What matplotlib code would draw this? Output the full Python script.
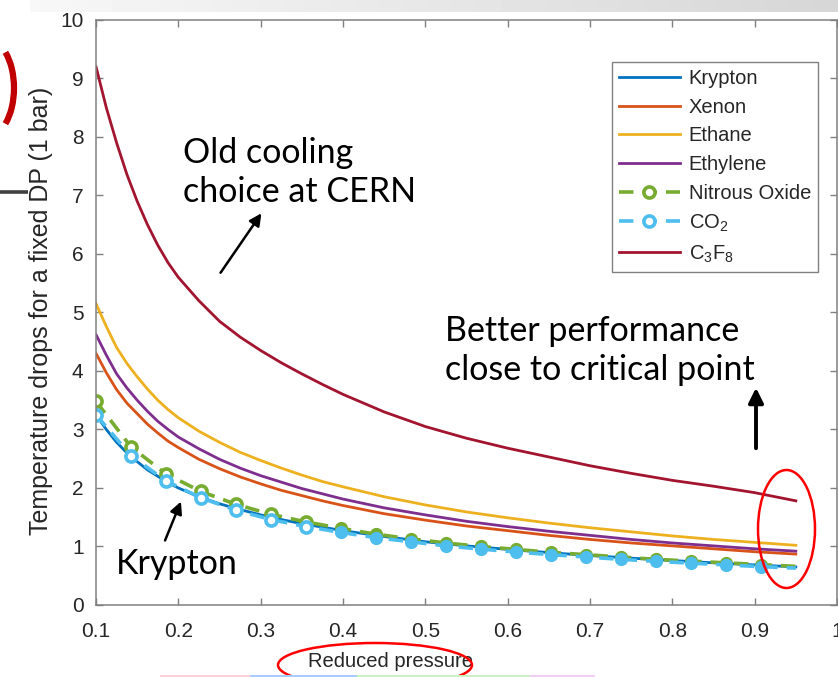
import matplotlib
matplotlib.use('Agg')
import matplotlib.pyplot as plt
import numpy as np
from matplotlib.patches import Ellipse, Arc, Rectangle

plt.rcParams['font.family'] = ['Liberation Sans', 'DejaVu Sans']
plt.rcParams['mathtext.fontset'] = 'custom'
plt.rcParams['mathtext.rm'] = 'Liberation Sans'
plt.rcParams['mathtext.it'] = 'Liberation Sans:italic'
plt.rcParams['mathtext.bf'] = 'Liberation Sans:bold'

# reduced pressure for the plain curves
pr = [0.1, 0.1125, 0.125, 0.1375, 0.15, 0.1625, 0.175, 0.1875, 0.2, 0.225,
      0.25, 0.275, 0.3, 0.325, 0.35, 0.375, 0.4, 0.45, 0.5, 0.55,
      0.6, 0.65, 0.7, 0.75, 0.8, 0.85, 0.9, 0.95]
krypton = [3.25, 3.00, 2.78, 2.60, 2.45, 2.31, 2.20, 2.09, 2.00, 1.85,
           1.73, 1.63, 1.54, 1.46, 1.39, 1.33, 1.27, 1.17, 1.08, 1.01,
           0.95, 0.895, 0.845, 0.80, 0.76, 0.72, 0.685, 0.65]
xenon = [4.30, 3.97, 3.68, 3.45, 3.27, 3.09, 2.94, 2.80, 2.69, 2.49,
         2.33, 2.19, 2.07, 1.96, 1.87, 1.78, 1.70, 1.56, 1.45, 1.35,
         1.27, 1.19, 1.12, 1.06, 1.01, 0.96, 0.91, 0.87]
ethane = [5.15, 4.76, 4.40, 4.13, 3.90, 3.69, 3.50, 3.34, 3.20, 2.97,
          2.78, 2.61, 2.47, 2.34, 2.22, 2.11, 2.02, 1.85, 1.71, 1.59,
          1.49, 1.40, 1.32, 1.25, 1.18, 1.12, 1.07, 1.02]
ethylene = [4.62, 4.27, 3.95, 3.71, 3.50, 3.31, 3.14, 3.00, 2.87, 2.67,
            2.49, 2.34, 2.21, 2.10, 1.99, 1.90, 1.81, 1.66, 1.54, 1.43,
            1.34, 1.26, 1.19, 1.12, 1.06, 1.01, 0.96, 0.92]
c3f8 = [9.20, 8.50, 7.90, 7.36, 6.90, 6.50, 6.15, 5.85, 5.60, 5.20,
        4.85, 4.58, 4.35, 4.14, 3.95, 3.77, 3.60, 3.30, 3.05, 2.85,
        2.68, 2.53, 2.38, 2.25, 2.13, 2.03, 1.92, 1.78]

# reduced pressure for the curves drawn with markers
pr_mk = [0.1, 0.1425, 0.185, 0.2275, 0.27, 0.3125, 0.355, 0.3975, 0.44, 0.4825,
         0.525, 0.5675, 0.61, 0.6525, 0.695, 0.7375, 0.78, 0.8225, 0.865, 0.9075, 0.95]
n2o = [3.48, 2.70, 2.24, 1.94, 1.72, 1.55, 1.42, 1.31, 1.21, 1.13,
       1.06, 1.00, 0.95, 0.90, 0.86, 0.82, 0.78, 0.75, 0.72, 0.69, 0.66]
co2 = [3.25, 2.55, 2.12, 1.83, 1.62, 1.46, 1.34, 1.24, 1.15, 1.08,
       1.01, 0.955, 0.905, 0.86, 0.82, 0.78, 0.745, 0.715, 0.685, 0.655, 0.63]

xticks = [0.1, 0.2, 0.3, 0.4, 0.5, 0.6, 0.7, 0.8, 0.9, 1.0]
xticklabels = ['0.1', '0.2', '0.3', '0.4', '0.5', '0.6', '0.7', '0.8', '0.9', '1']
yticks = list(range(0, 11))

fig = plt.figure(figsize=(8.38, 6.77), dpi=100)
ax = fig.add_axes([0.1146, 0.1064, 0.8842, 0.8641])

lw = 2.0
ax.plot(pr, krypton, color='#0072BD', lw=lw, label='Krypton')
ax.plot(pr, xenon, color='#D95319', lw=lw, label='Xenon')
ax.plot(pr, ethane, color='#EDB120', lw=lw, label='Ethane')
ax.plot(pr, ethylene, color='#7E2F8E', lw=lw, label='Ethylene')

# first few markers are open rings, the rest come out solid
filled = slice(7, 20)
for y, c, name in [(n2o, '#77AC30', 'Nitrous Oxide'), (co2, '#4DBEEE', 'CO$_2$')]:
    ax.plot(pr_mk, y, color=c, lw=2.6, ls=(0, (4, 2.5)), marker='o', ms=8,
            mew=2.6, mfc='white', mec=c, markevery=list(range(0, 7)), label=name)
    ax.plot(np.array(pr_mk)[filled], np.array(y)[filled], ls='none', marker='o',
            ms=8.5, mfc=c, mec=c)

ax.plot(pr, c3f8, color='#A2142F', lw=lw, label='C$_3$F$_8$')

ax.set_xlim(0.1, 1.0)
ax.set_ylim(0, 10)
ax.set_xticks(xticks)
ax.set_xticklabels(xticklabels)
ax.set_yticks(yticks)
ax.tick_params(direction='in', length=5, width=1, colors='#808080',
               labelcolor='#262626', labelsize=15, top=True, right=True)
ax.tick_params(axis='x', pad=12)
ax.tick_params(axis='y', pad=9)
for s in ax.spines.values():
    s.set_color('#808080')
    s.set_linewidth(1.1)

ax.set_ylabel('Temperature drops for a fixed DP (1 bar)', fontsize=18, color='#262626')
ax.yaxis.set_label_coords(-0.058, 0.503)
ax.set_xlabel('Reduced pressure', fontsize=14.5, color='#262626')
ax.xaxis.set_label_coords(0.397, -0.080)

leg = ax.legend(loc='upper right', bbox_to_anchor=(0.9744, 0.928), borderaxespad=0,
                fontsize=14.5, frameon=True, fancybox=False, framealpha=1,
                edgecolor='#808080', handlelength=3.0, handletextpad=0.45,
                labelspacing=0.48, borderpad=0.35)
leg.get_frame().set_linewidth(1.0)
for t in leg.get_texts():
    t.set_color('#262626')

# slide overlay in pixel units
deco = fig.add_axes([0, 0, 1, 1], zorder=10)
deco.set_xlim(0, 838)
deco.set_ylim(677, 0)
deco.axis('off')
deco.patch.set_alpha(0)

grad = np.linspace(0.97, 0.84, 256).reshape(1, -1)
deco.imshow(grad, cmap='gray', vmin=0, vmax=1, extent=[30, 838, 12, 0], aspect='auto')

deco.add_patch(Arc((-12, 88), 52, 96, theta1=-64, theta2=64, color='#C00000', lw=4.5))
deco.plot([0, 28], [191.5, 191.5], color='#404040', lw=2.6, solid_capstyle='butt')

ann_font = dict(family=['Lato', 'DejaVu Sans'], fontsize=24.5, color='black')
deco.text(183, 163, 'Old cooling', **ann_font)
deco.text(183, 202, 'choice at CERN', **ann_font)
deco.text(445, 341, 'Better performance', **ann_font)
deco.text(445, 380, 'close to critical point', **ann_font)
deco.text(116, 574, 'Krypton', **ann_font)

deco.annotate('', xy=(263, 211), xytext=(219, 275),
              arrowprops=dict(arrowstyle='-|>', color='black', lw=1.8, mutation_scale=18))
deco.annotate('', xy=(182, 499), xytext=(164, 543),
              arrowprops=dict(arrowstyle='-|>', color='black', lw=1.8, mutation_scale=18))
deco.annotate('', xy=(756, 385), xytext=(756, 451),
              arrowprops=dict(arrowstyle='-|>', color='black', lw=2.8, mutation_scale=22))

deco.add_patch(Ellipse((786.5, 529), 57, 118, fill=False, ec='#FF0000', lw=1.8))
deco.add_patch(Ellipse((375, 665), 194, 44, fill=False, ec='#FF0000', lw=1.8))

for x0, x1, c in [(160, 250, '#FFD0D8'), (250, 357, '#A8CCFF'),
                  (357, 530, '#CCF2C4'), (530, 595, '#F4CCF4')]:
    deco.add_patch(Rectangle((x0, 675), x1 - x0, 3, color=c, lw=0))

fig.savefig('out.png', dpi=100)
